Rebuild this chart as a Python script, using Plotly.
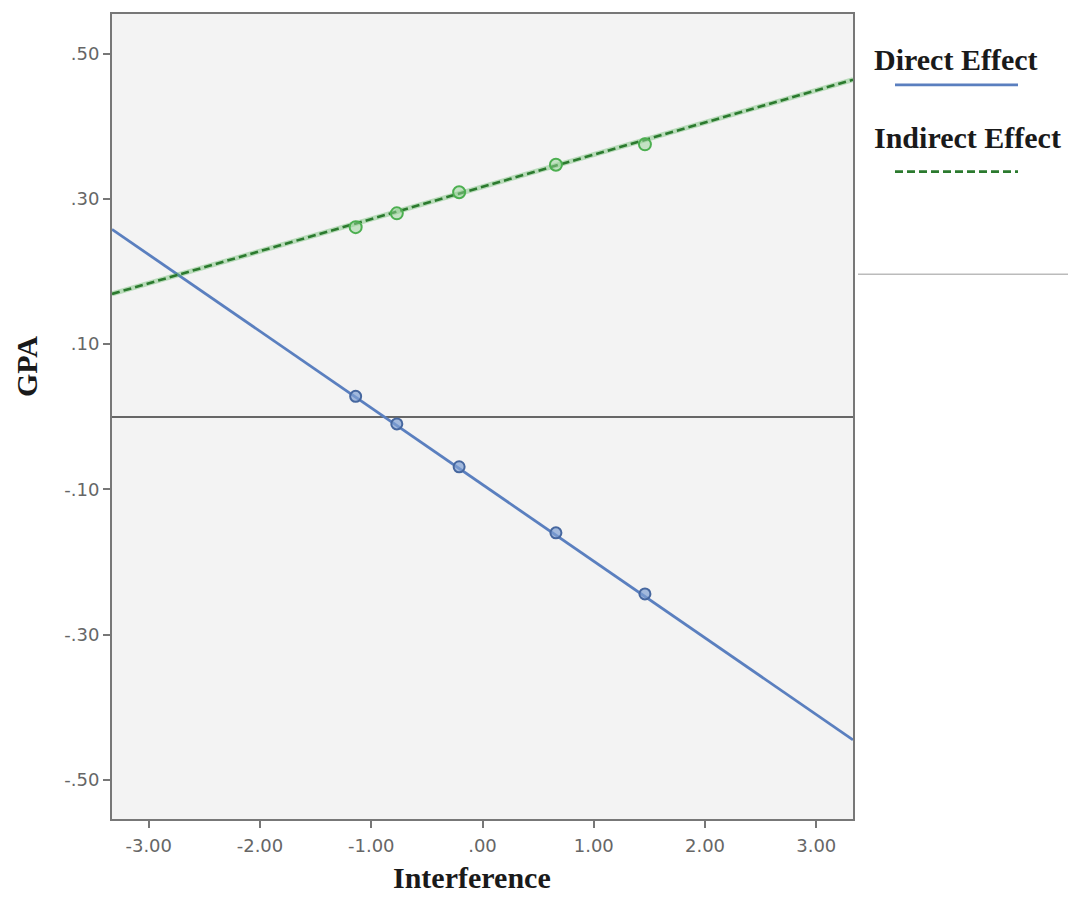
import plotly.graph_objects as go

# ---- data ----
line_x = [-3.33, 3.33]
direct_line_y = [0.258, -0.445]
indirect_line_y = [0.169, 0.464]

point_x = [-1.14, -0.77, -0.21, 0.66, 1.46]
direct_pts = [0.028, -0.010, -0.069, -0.160, -0.244]
indirect_pts = [0.261, 0.280, 0.309, 0.347, 0.375]

x_tickvals = [-3, -2, -1, 0, 1, 2, 3]
x_ticktext = ["-3.00", "-2.00", "-1.00", ".00", "1.00", "2.00", "3.00"]
y_tickvals = [0.5, 0.3, 0.1, -0.1, -0.3, -0.5]
y_ticktext = [".50", ".30", ".10", "-.10", "-.30", "-.50"]

blue = "#5a7fbf"
blue_dark = "#46679f"
green = "#2b7a2e"
green_light = "#4caf50"

# page body has an 8px margin: figure pixels = reference pixels - 8
OFF = 8
W, H = 1076 - 2 * OFF, 903 - 2 * OFF
PL, PR, PT, PB = 112 - OFF, 853 - OFF, 12 - OFF, 819 - OFF

fig = go.Figure()

fig.add_trace(go.Scatter(x=line_x, y=direct_line_y, mode="lines",
                         line=dict(color=blue, width=2.8), showlegend=False,
                         hoverinfo="skip"))
fig.add_trace(go.Scatter(x=point_x, y=direct_pts, mode="markers",
                         marker=dict(symbol="circle", size=11, color="rgba(127,159,211,0.7)",
                                     line=dict(width=2, color=blue_dark)),
                         showlegend=False))
fig.add_trace(go.Scatter(x=line_x, y=indirect_line_y, mode="lines",
                         line=dict(color=green_light, width=5), opacity=0.35,
                         showlegend=False, hoverinfo="skip"))
fig.add_trace(go.Scatter(x=line_x, y=indirect_line_y, mode="lines",
                         line=dict(color=green, width=2.6, dash="8px,4px"),
                         showlegend=False, hoverinfo="skip"))
fig.add_trace(go.Scatter(x=point_x, y=indirect_pts, mode="markers",
                         marker=dict(symbol="circle", size=12, color="rgba(150,210,150,0.5)",
                                     line=dict(width=2, color=green_light)),
                         showlegend=False))

tick_font = dict(family="DejaVu Sans", size=18, color="#666666")
title_font = dict(family="Liberation Serif", size=30, color="#1a1a1a")

fig.update_layout(
    width=W, height=H,
    margin=dict(l=PL, r=W - PR, t=PT, b=H - PB),
    paper_bgcolor="white",
    plot_bgcolor="#f3f3f3",
    xaxis=dict(range=[-3.33, 3.33], tickvals=x_tickvals, ticktext=x_ticktext,
               showgrid=False, zeroline=False, showline=True, mirror=True,
               linecolor="#777777", linewidth=2, ticks="outside", ticklen=7,
               tickwidth=1.5, tickcolor="#777777", tickfont=tick_font,
               ticklabelstandoff=2),
    yaxis=dict(range=[-0.554, 0.5545], tickvals=y_tickvals, ticktext=y_ticktext,
               showgrid=False, zeroline=True, zerolinecolor="#666666", zerolinewidth=1.5,
               showline=True, mirror=True,
               linecolor="#777777", linewidth=2, ticks="outside", ticklen=7,
               tickwidth=1.5, tickcolor="#777777", tickfont=tick_font),
)


def px_x(px):
    return (px - OFF - PL) / (PR - PL)


def px_y(py):
    return (PB - (py - OFF)) / (PB - PT)


# axis titles
fig.add_annotation(text="<b>Interference</b>", xref="paper", yref="paper",
                   x=px_x(472), y=px_y(895),
                   showarrow=False, font=title_font, xanchor="center", yanchor="bottom",
                   borderpad=0)
fig.add_annotation(text="<b>GPA</b>", xref="paper", yref="paper",
                   x=px_x(26), y=px_y(366),
                   showarrow=False, font=title_font, textangle=-90,
                   xanchor="center", yanchor="middle")

# legend (drawn manually, SPSS style)
fig.add_annotation(text="<b>Direct Effect</b>", xref="paper", yref="paper",
                   x=px_x(872), y=px_y(58), showarrow=False, font=title_font,
                   xanchor="left", yanchor="middle")
fig.add_annotation(text="<b>Indirect Effect</b>", xref="paper", yref="paper",
                   x=px_x(872), y=px_y(136), showarrow=False, font=title_font,
                   xanchor="left", yanchor="middle")
fig.add_shape(type="line", xref="paper", yref="paper",
              x0=px_x(895), x1=px_x(1018), y0=px_y(83), y1=px_y(83),
              line=dict(color=blue, width=2.8))
fig.add_shape(type="line", xref="paper", yref="paper",
              x0=px_x(895), x1=px_x(1018), y0=px_y(170), y1=px_y(170),
              line=dict(color=green, width=2.6, dash="8px,4px"))
fig.add_shape(type="line", xref="paper", yref="paper",
              x0=px_x(858), x1=px_x(1068), y0=px_y(273), y1=px_y(273),
              line=dict(color="#bbbbbb", width=1.5))

fig.write_html("out.html")
